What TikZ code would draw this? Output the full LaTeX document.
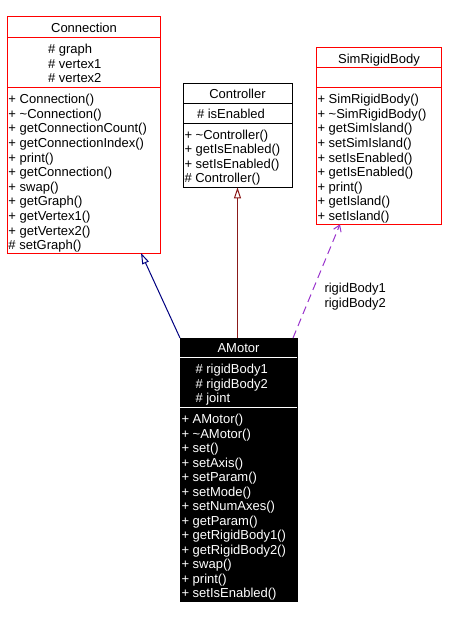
\documentclass[tikz,border=0pt]{standalone}
\usepackage{fontspec}
\setmainfont{Liberation Sans}
\usetikzlibrary{arrows.meta}
\definecolor{boxred}{RGB}{255,0,0}
\definecolor{linknavy}{RGB}{0,0,128}
\definecolor{linkred}{RGB}{139,26,26}
\definecolor{linkpurple}{RGB}{153,51,204}
\begin{document}
\begin{tikzpicture}[x=1pt, y=-1pt, line width=1pt,
        font=\fontsize{13}{14.6}\selectfont,
        heading/.style={inner sep=0pt, text height=9.3pt, text depth=0.5pt},
        member/.style={heading, anchor=west},
        classbox/.style={anchor=north west, inner sep=0pt, outer sep=0pt},
        inherit/.style={-{Triangle[open, length=11pt, width=7pt]}},
        uses/.style={dash pattern=on 8pt off 5pt, -{Straight Barb[length=6pt, width=8pt]}}]
            \useasboundingbox (0, 0) rectangle (457, 620);

            % Connection
            \node[classbox, draw=boxred, minimum width=153pt, minimum height=236pt] (connection) at (7, 17) {};
            \draw[boxred] (7, 37.3) -- (160, 37.3);
            \draw[boxred] (7, 87.3) -- (160, 87.3);
            \node[heading] (connTitle) at (84, 28.3) {Connection};
            \node[member] (ca1) at (47.5, 49.3) {\# graph};
            \node[member] (ca2) at (47.5, 63.9) {\# vertex1};
            \node[member] (ca3) at (47.5, 78.5) {\# vertex2};
            \node[member] (cm1) at (8, 99.3) {+ Connection()};
            \node[member] (cm2) at (8, 113.9) {+ \textasciitilde Connection()};
            \node[member] (cm3) at (8, 128.5) {+ getConnectionCount()};
            \node[member] (cm4) at (8, 143.1) {+ getConnectionIndex()};
            \node[member] (cm5) at (8, 157.7) {+ print()};
            \node[member] (cm6) at (8, 172.3) {+ getConnection()};
            \node[member] (cm7) at (8, 186.9) {+ swap()};
            \node[member] (cm8) at (8, 201.5) {+ getGraph()};
            \node[member] (cm9) at (8, 216.1) {+ getVertex1()};
            \node[member] (cm10) at (8, 230.7) {+ getVertex2()};
            \node[member] (cm11) at (8, 245.3) {\# setGraph()};

            % Controller
            \node[classbox, draw=black, minimum width=109pt, minimum height=104pt] (controller) at (183, 83.3) {};
            \draw (183, 103.3) -- (292, 103.3);
            \draw (183, 123.3) -- (292, 123.3);
            \node[heading] (ctrlTitle) at (237.5, 94.3) {Controller};
            \node[member] (ta1) at (196.5, 114) {\# isEnabled};
            \node[member] (tm1) at (184, 135) {+ \textasciitilde Controller()};
            \node[member] (tm2) at (184, 149.5) {+ getIsEnabled()};
            \node[member] (tm3) at (184, 164) {+ setIsEnabled()};
            \node[member] (tm4) at (184, 178.5) {\# Controller()};

            % SimRigidBody
            \node[classbox, draw=boxred, minimum width=125.5pt, minimum height=177pt] (simbody) at (316, 47.3) {};
            \draw[boxred] (316, 67.3) -- (441.5, 67.3);
            \draw[boxred] (316, 87.3) -- (441.5, 87.3);
            \node[heading] (simTitle) at (379, 58.8) {SimRigidBody};
            \node[member] (sm1) at (317, 99.3) {+ SimRigidBody()};
            \node[member] (sm2) at (317, 113.9) {+ \textasciitilde SimRigidBody()};
            \node[member] (sm3) at (317, 128.5) {+ getSimIsland()};
            \node[member] (sm4) at (317, 143.1) {+ setSimIsland()};
            \node[member] (sm5) at (317, 157.7) {+ setIsEnabled()};
            \node[member] (sm6) at (317, 172.3) {+ getIsEnabled()};
            \node[member] (sm7) at (317, 186.9) {+ print()};
            \node[member] (sm8) at (317, 201.5) {+ getIsland()};
            \node[member] (sm9) at (317, 216.1) {+ setIsland()};

            % AMotor
            \node[classbox, draw=black, fill=black, minimum width=117pt, minimum height=263pt] (amotor) at (180, 338) {};
            \draw[white] (180, 357.7) -- (297, 357.7);
            \draw[white] (180, 407.3) -- (297, 407.3);
            \begin{scope}[text=white]
            \node[heading] (amTitle) at (238.5, 348.3) {AMotor};
            \node[member] (aa1) at (195, 369) {\# rigidBody1};
            \node[member] (aa2) at (195, 383.6) {\# rigidBody2};
            \node[member] (aa3) at (195, 398.2) {\# joint};
            \node[member] (am1) at (181, 419.3) {+ AMotor()};
            \node[member] (am2) at (181, 433.8) {+ \textasciitilde AMotor()};
            \node[member] (am3) at (181, 448.3) {+ set()};
            \node[member] (am4) at (181, 462.8) {+ setAxis()};
            \node[member] (am5) at (181, 477.3) {+ setParam()};
            \node[member] (am6) at (181, 491.8) {+ setMode()};
            \node[member] (am7) at (181, 506.3) {+ setNumAxes()};
            \node[member] (am8) at (181, 520.8) {+ getParam()};
            \node[member] (am9) at (181, 535.3) {+ getRigidBody1()};
            \node[member] (am10) at (181, 549.8) {+ getRigidBody2()};
            \node[member] (am11) at (181, 564.3) {+ swap()};
            \node[member] (am12) at (181, 578.8) {+ print()};
            \node[member] (am13) at (181, 593.3) {+ setIsEnabled()};
            \end{scope}

            \draw[inherit, linknavy] (amotor.north west) -- ([xshift=-19pt]connection.south east);
            \draw[inherit, linkred] (amotor.north -| controller.south) -- (controller.south);
            \draw[uses, linkpurple] ([xshift=-4pt]amotor.north east) -- ([xshift=24pt]simbody.south west);
            \node[anchor=west, inner sep=0pt, align=left] (roles) at (324, 296.6) {rigidBody1\\rigidBody2};
        \end{tikzpicture}
\end{document}
